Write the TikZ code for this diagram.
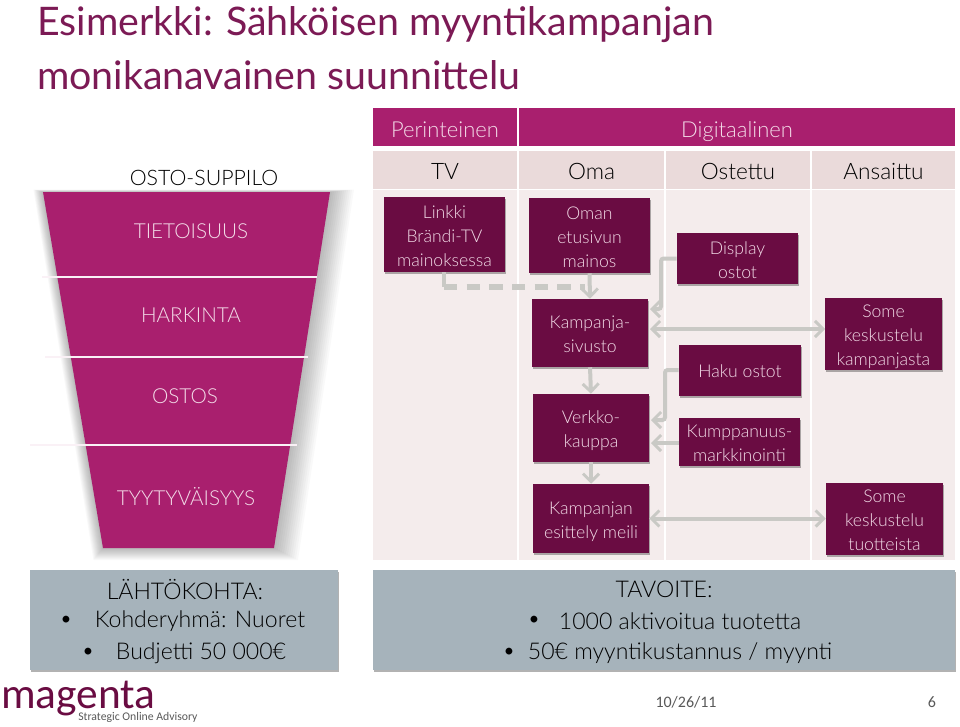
\documentclass[tikz,border=0pt]{standalone}
\usepackage{fontspec}
\setmainfont{Lato Light}
\newfontfamily\ttl{Lato}
\newfontfamily\carl{Carlito}
\usetikzlibrary{arrows.meta,shadows,fadings}
\definecolor{mag}{HTML}{A91F6E}
\definecolor{dk}{HTML}{6A0C42}
\definecolor{titlec}{HTML}{7C1A55}
\definecolor{rowc}{HTML}{EADADA}
\definecolor{bodyc}{HTML}{F4ECEC}
\definecolor{greyb}{HTML}{A6B3BB}
\definecolor{arrowc}{HTML}{C9C9C5}
\definecolor{softt}{HTML}{F3DCE8}
\newsavebox{\lnsbox}
\newcommand\lns[1]{\sbox{\lnsbox}{\begin{tabular}{@{}c@{}}#1\end{tabular}}\raisebox{-2.3pt}[\ht\lnsbox][\dp\lnsbox]{\usebox{\lnsbox}}}
\tikzset{
 x=0.75pt,y=-0.75pt,
 sz/.style 2 args={minimum width=#1*0.75pt,minimum height=#2*0.75pt,inner sep=0pt},
 dkbox/.style={fill=dk,text=softt,font=\fontsize{13.2}{18}\selectfont,drop shadow={shadow xshift=1pt,shadow yshift=-1.5pt,opacity=.3,fill=black}},
 head/.style={fill=mag,text=softt,text height=16.5pt,text depth=1pt,font=\fontsize{16.5}{19}\selectfont},
 rowh/.style={fill=rowc,text=black,text height=16.5pt,text depth=1pt,font=\fontsize{17}{19}\selectfont},
 funtext/.style={text=softt,font=\fontsize{15.5}{18}\selectfont,inner sep=0pt},
 greybox/.style={fill=greyb,text=black,drop shadow={shadow xshift=.5pt,shadow yshift=-1.5pt,opacity=.3,fill=black}},
 bigtxt/.style={font=\fontsize{17.3}{18}\selectfont,inner sep=0pt,text=black},
 conn/.style={draw=arrowc,line width=3pt,-{Straight Barb[length=6pt,width=12pt,line width=2.2pt]}},
 conn2/.style={draw=arrowc,line width=3pt,{Straight Barb[length=6pt,width=12pt,line width=2.2pt]}-{Straight Barb[length=6pt,width=12pt,line width=2.2pt]}},
 dashc/.style={draw=arrowc,line width=4pt,dash pattern=on 10pt off 7pt},
 seg/.style={draw=softt!40!white,line width=1.8pt},
}
\begin{document}
\begin{tikzpicture}
\useasboundingbox (0,0) rectangle (960,726);
\fill[white] (0,0) rectangle (960,726);

% title
\node[anchor=base west,text=titlec,font=\ttl\fontsize{29.5}{32}\selectfont,inner sep=0pt] (t1) at (37,35) {Esimerkki: Sähköisen myyntikampanjan};
\node[anchor=base west,text=titlec,font=\ttl\fontsize{29.5}{32}\selectfont,inner sep=0pt] (t2) at (37,89) {monikanavainen suunnittelu};

% table
\node[head,sz={144}{38}] (per) at (445,127) {Perinteinen};
\node[head,sz={436}{38}] (dig) at (737,127) {Digitaalinen};
\node[rowh,sz={144}{38}] (tv) at (445,169.5) {TV};
\node[rowh,sz={145}{38}] (oma) at (591.5,169.5) {Oma};
\node[rowh,sz={144}{38}] (ost) at (738,169.5) {Ostettu};
\node[rowh,sz={143}{38}] (ans) at (883.5,169.5) {Ansaittu};
\fill[bodyc] (373,190) rectangle (517,560);
\fill[bodyc] (519,190) rectangle (664,560);
\fill[bodyc] (666,190) rectangle (810,560);
\fill[bodyc] (812,190) rectangle (955,560);

% funnel shadow
\foreach \s in {2,4,...,24}{
 \fill[black,opacity=.024] (43-\s*0.4,192-\s*0.1) -- (330+\s,192-\s*0.1) -- (274+\s,548+\s*0.5) -- (103-\s*0.4,548+\s*0.5) -- cycle;
}
\fill[mag] (43,192) -- (330,192) -- (274,548) -- (103,548) -- cycle;
\draw[seg] (42,277) -- (317,277);
\draw[seg] (45,357) -- (308,357);
\draw[seg] (30,445) -- (297,445);
\node[font=\fontsize{16}{18}\selectfont,inner sep=0pt,text=black] (os) at (204,178) {OSTO-SUPPILO};
\node[funtext] (f1) at (191,231) {TIETOISUUS};
\node[funtext] (f2) at (191,315) {HARKINTA};
\node[funtext] (f3) at (185,396) {OSTOS};
\node[funtext] (f4) at (186,497) {TYYTYVÄISYYS};

% boxes
\node[dkbox,sz={121}{75}] (linkki) at (444.5,234.5) {\lns{Linkki\\Brändi-TV\\mainoksessa}};
\node[dkbox,sz={121}{75}] (oman) at (589.5,235.5) {\lns{Oman\\etusivun\\mainos}};
\node[dkbox,sz={121}{51}] (disp) at (737.5,258.5) {\lns{Display\\ostot}};
\node[dkbox,sz={116}{68}] (kamp) at (590,333) {\lns{Kampanja-\\sivusto}};
\node[dkbox,sz={122}{51}] (haku) at (740,370) {\lns{Haku ostot}};
\node[dkbox,sz={117}{68}] (some1) at (883.5,333.5) {\lns{Some\\keskustelu\\kampanjasta}};
\node[dkbox,sz={116}{68}] (verk) at (591,428) {\lns{Verkko-\\kauppa}};
\node[dkbox,sz={121}{48}] (kump) at (739.5,442) {\lns{Kumppanuus-\\markkinointi}};
\node[dkbox,sz={116}{69}] (kesi) at (591,518.5) {\lns{Kampanjan\\esittely meili}};
\node[dkbox,sz={117}{69}] (some2) at (884.5,518.5) {\lns{Some\\keskustelu\\tuotteista}};

% connectors
\coordinate (lk) at (444,272);
\coordinate (lk2) at (444,287);
\coordinate (lk3) at (585,287);
\coordinate (k1) at (650,309);
\coordinate (dl) at (661,258.5);
\coordinate (k2) at (650,329);
\coordinate (s2) at (825,329);
\coordinate (v1) at (651,420);
\coordinate (hl) at (665,370);
\coordinate (v2) at (651,443);
\coordinate (kr) at (679,443);
\draw[draw=arrowc,line width=3pt] (lk) -- (lk2);
\draw[dashc] (lk2) -- (lk3);
\draw[conn] (oman.south) -- (kamp.north);
\draw[conn,rounded corners=2pt] (disp.west) -- (dl) |- (k1);
\draw[conn2] (k2) -- (s2);
\draw[conn] (kamp.south) -- (verk.north);
\draw[conn,rounded corners=2pt] (haku.west) -- (hl) |- (v1);
\draw[conn] (kr) -- (v2);
\draw[conn] (verk.south) -- (kesi.north);
\draw[conn2] (kesi.east) -- (some2.west);

% grey boxes
\node[greybox,sz={308}{100}] (lb) at (184,620) {};
\node[greybox,sz={582}{100}] (rb) at (664,620) {};
\node[bigtxt] (l1) at (185,589) {LÄHTÖKOHTA:};
\node[bigtxt] (l2) at (200,621) {Kohderyhmä: Nuoret};
\node[bigtxt] (l3) at (201,653) {Budjetti 50 000€};
\node[bigtxt] (b1) at (66,621) {•};
\node[bigtxt] (b2) at (88,653) {•};
\node[bigtxt] (r1) at (664,589) {TAVOITE:};
\node[bigtxt] (r2) at (680,621) {1000 aktivoitua tuotetta};
\node[bigtxt] (r3) at (680,653) {50€ myyntikustannus / myynti};
\node[bigtxt] (b3) at (534,621) {•};
\node[bigtxt] (b4) at (509,653) {•};

% footer
\node[anchor=base west,inner sep=0pt,text=dk,font=\carl\fontsize{32.5}{36}\selectfont] (logo) at (1,708) {magenta};
\node[anchor=base west,inner sep=0pt,text=black!65,font=\carl\fontsize{8.8}{11}\selectfont] (logos) at (78,720) {Strategic Online Advisory};
\node[anchor=base,inner sep=0pt,text=black!65,font=\carl\fontsize{12}{14}\selectfont] (date) at (686,707) {10/26/11};
\node[anchor=base,inner sep=0pt,text=black!65,font=\carl\fontsize{12}{14}\selectfont] (pg) at (932,707) {6};
\end{tikzpicture}
\end{document}
